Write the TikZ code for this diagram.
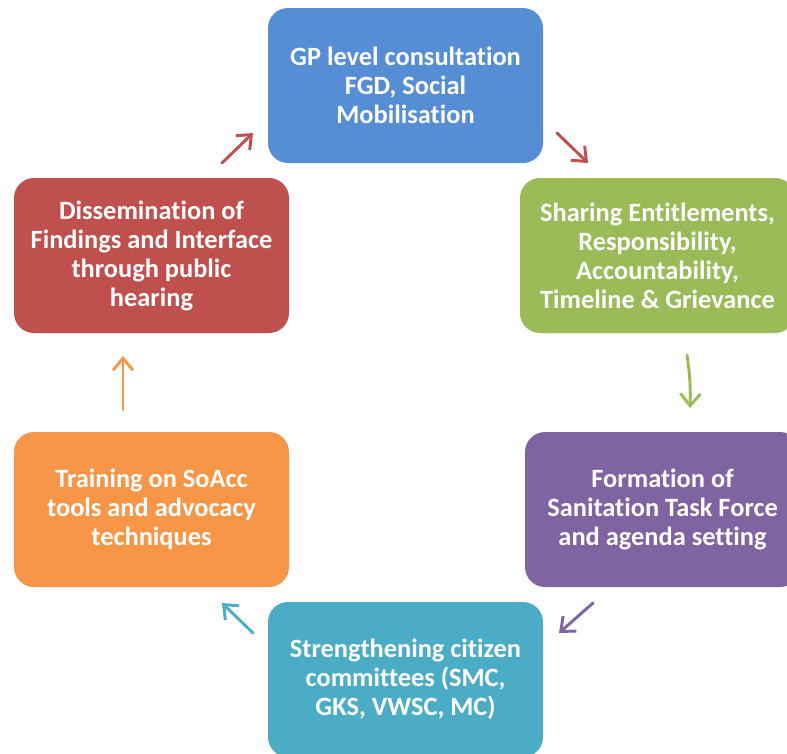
\documentclass[tikz,border=0pt]{standalone}
\usepackage{fontspec}
\setmainfont{Carlito}[Ligatures=NoCommon]
\usetikzlibrary{positioning}
\usetikzlibrary{arrows.meta}
\definecolor{cblue}{HTML}{558ED5}
\definecolor{cgreen}{HTML}{9BBB59}
\definecolor{cpurple}{HTML}{8064A2}
\definecolor{cteal}{HTML}{4BACC6}
\definecolor{corange}{HTML}{F79646}
\definecolor{cred}{HTML}{C0504D}
\tikzset{
    stage/.style = {rectangle, rounded corners=15pt, minimum width=206.25pt, minimum height=116.25pt, align=center, text=white, font=\fontsize{19.8}{21.75}\selectfont\bfseries},
    stageb/.style = {stage, fill=cblue},
    stageg/.style = {stage, fill=cgreen},
    stagep/.style = {stage, fill=cpurple},
    staget/.style = {stage, fill=cteal},
    stageo/.style = {stage, fill=corange},
    stager/.style = {stage, fill=cred},
    edge/.style = {-{Straight Barb[length=9pt,width=15pt,line width=2.2pt]}, line width=2.2pt, line cap=round},
    edger/.style = {edge, cred},
    edgeg/.style = {edge, cgreen},
    edgep/.style = {edge, cpurple},
    edget/.style = {edge, cteal},
    edgeo/.style = {edge, corange}
}
\begin{document}
\begin{tikzpicture}[x=0.75pt,y=-0.75pt]
\useasboundingbox (0,0) rectangle (787,753);
%
\node[stageb] at (405.5,85.5) (gp) {GP level consultation\\FGD, Social\\Mobilisation};
\node[stageg] at (657.5,255.5) (share) {Sharing Entitlements,\\Responsibility,\\Accountability,\\Timeline \& Grievance};
\node[stagep] at (662.5,509.5) (form) {Formation of\\Sanitation Task Force\\and agenda setting};
\node[staget] at (405.5,679.5) (strong) {Strengthening citizen\\committees (SMC,\\GKS, VWSC, MC)};
\node[stageo] at (151.5,509.5) (train) {Training on SoAcc\\tools and advocacy\\techniques};
\node[stager] at (151.5,255.5) (diss) {Dissemination of\\Findings and Interface\\through public\\hearing};
%
\coordinate (a1) at (222,163); \coordinate (b1) at (253,133);
\coordinate (a2) at (557,133); \coordinate (b2) at (588,163);
\coordinate (a3) at (687,355); \coordinate (b3) at (690,408);
\coordinate (a4) at (593,603); \coordinate (b4) at (559,633);
\coordinate (a5) at (253,633); \coordinate (b5) at (222,603);
\coordinate (a6) at (123,410); \coordinate (b6) at (123,356);
%
\draw[edger] (a1) -- (b1);
\draw[edger] (a2) -- (b2);
\draw[edgeg] (a3) to[bend left=5] (b3);
\draw[edgep] (a4) -- (b4);
\draw[edget] (a5) -- (b5);
\draw[edgeo] (a6) -- (b6);

\end{tikzpicture}
\end{document}
